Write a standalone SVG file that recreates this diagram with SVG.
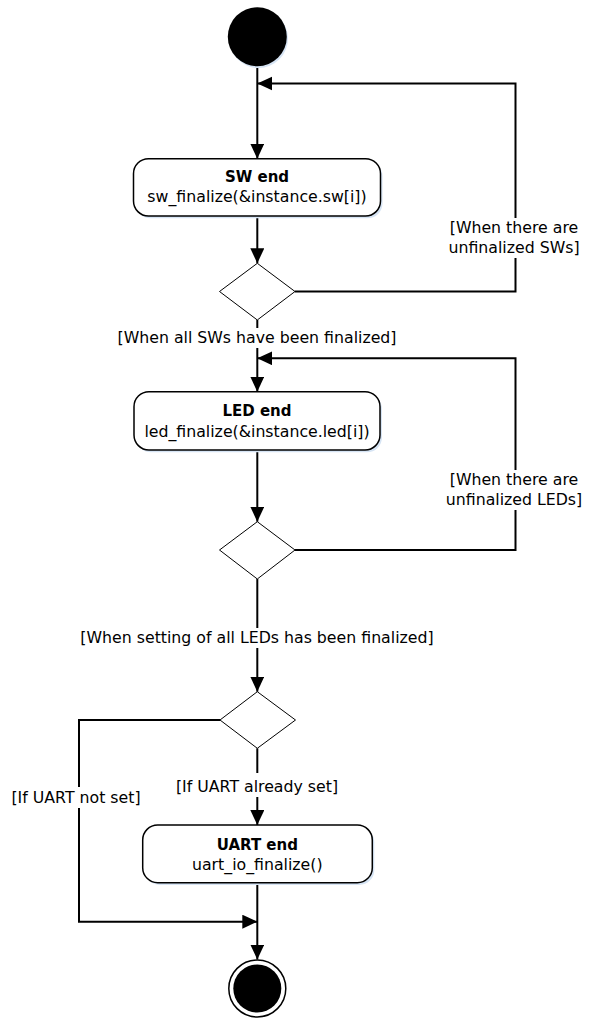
<svg xmlns="http://www.w3.org/2000/svg" width="589" height="1021" viewBox="0 0 589 1021">
<defs>
<marker id="arr" markerUnits="userSpaceOnUse" markerWidth="16" markerHeight="15" refX="15" refY="7" orient="auto">
<path d="M0,0 L15,7 L0,14 z" fill="#000"/>
</marker>
<style>
.conn{fill:none;stroke:#000;stroke-width:2}
.box{fill:#fff;stroke:#000;stroke-width:1.5}
.shadow{fill:#d6e4f4;stroke:none}
.dia{fill:#fff;stroke:#000;stroke-width:1}
text{font-family:"DejaVu Sans",Verdana,"Liberation Sans",sans-serif;font-size:15.75px;fill:#000;text-anchor:middle}
.b{font-weight:bold;font-size:15px}
.bg{fill:#fff;stroke:none}
</style>
</defs>
<rect width="589" height="1021" fill="#fff"/>
<g id="connectors">
<path class="conn" d="M257.3,66 V158.7" marker-end="url(#arr)"/>
<path class="conn" d="M257.3,216 V263.3" marker-end="url(#arr)"/>
<path class="conn" d="M295,291.5 H515.5 V83.5 H257.3" marker-end="url(#arr)"/>
<path class="conn" d="M257.3,320 V391.7" marker-end="url(#arr)"/>
<path class="conn" d="M257.3,450 V521.7" marker-end="url(#arr)"/>
<path class="conn" d="M295,550 H515.5 V358.3 H257.3" marker-end="url(#arr)"/>
<path class="conn" d="M257.3,579 V691.7" marker-end="url(#arr)"/>
<path class="conn" d="M257.3,748.3 V825" marker-end="url(#arr)"/>
<path class="conn" d="M220,720 H79 V921.7 H257.3" marker-end="url(#arr)"/>
<path class="conn" d="M257.3,882.7 V959.5" marker-end="url(#arr)"/>
</g>
<g id="labels">
<rect class="bg" x="444" y="218" width="140" height="40"/>
<text x="514" y="233">[When there are</text>
<text x="514" y="253">unfinalized SWs]</text>
<rect class="bg" x="114" y="328" width="288" height="20"/>
<text x="257" y="343">[When all SWs have been finalized]</text>
<rect class="bg" x="444" y="470" width="142" height="40"/>
<text x="514" y="485">[When there are</text>
<text x="514" y="505">unfinalized LEDs]</text>
<rect class="bg" x="76" y="628" width="362" height="20"/>
<text x="257" y="643">[When setting of all LEDs has been finalized]</text>
<rect class="bg" x="169" y="773" width="176" height="24"/>
<text x="257" y="791.7">[If UART already set]</text>
<rect class="bg" x="4" y="787" width="146" height="21"/>
<text x="76" y="802.7">[If UART not set]</text>
</g>
<g id="start">
<circle class="shadow" cx="258.5" cy="38.5" r="29.5"/>
<circle cx="257.3" cy="36.7" r="29.5" fill="#000"/>
</g>
<g id="sw_end">
<rect class="shadow" x="135.5" y="161" width="247" height="57.3" rx="15"/>
<rect class="box" x="133.5" y="158.7" width="247" height="57.3" rx="15"/>
<text class="b" x="257" y="181.7">SW end</text>
<text x="257" y="201.7">sw_finalize(&amp;instance.sw[i])</text>
</g>
<g id="decision1">
<polygon class="dia" points="257.3,263.3 295,291.5 257.3,320 219.5,291.5"/>
</g>
<g id="led_end">
<rect class="shadow" x="136" y="394" width="246" height="58.3" rx="15"/>
<rect class="box" x="134" y="391.7" width="246" height="58.3" rx="15"/>
<text class="b" x="257" y="416">LED end</text>
<text x="257" y="436.7">led_finalize(&amp;instance.led[i])</text>
</g>
<g id="decision2">
<polygon class="dia" points="257.3,521.7 295,550 257.3,579 219.5,550"/>
</g>
<g id="decision3">
<polygon class="dia" points="257.3,691.7 295.5,720 257.3,748.3 220,720"/>
</g>
<g id="uart_end">
<rect class="shadow" x="144.7" y="827.3" width="229.6" height="57.7" rx="15"/>
<rect class="box" x="142.7" y="825" width="229.6" height="57.7" rx="15"/>
<text class="b" x="257.3" y="850">UART end</text>
<text x="257.3" y="870">uart_io_finalize()</text>
</g>
<g id="end">
<circle cx="257.3" cy="988.5" r="28.5" fill="#fff" stroke="#000" stroke-width="1.5"/>
<circle cx="257.3" cy="988.5" r="24" fill="#000"/>
</g>
</svg>
